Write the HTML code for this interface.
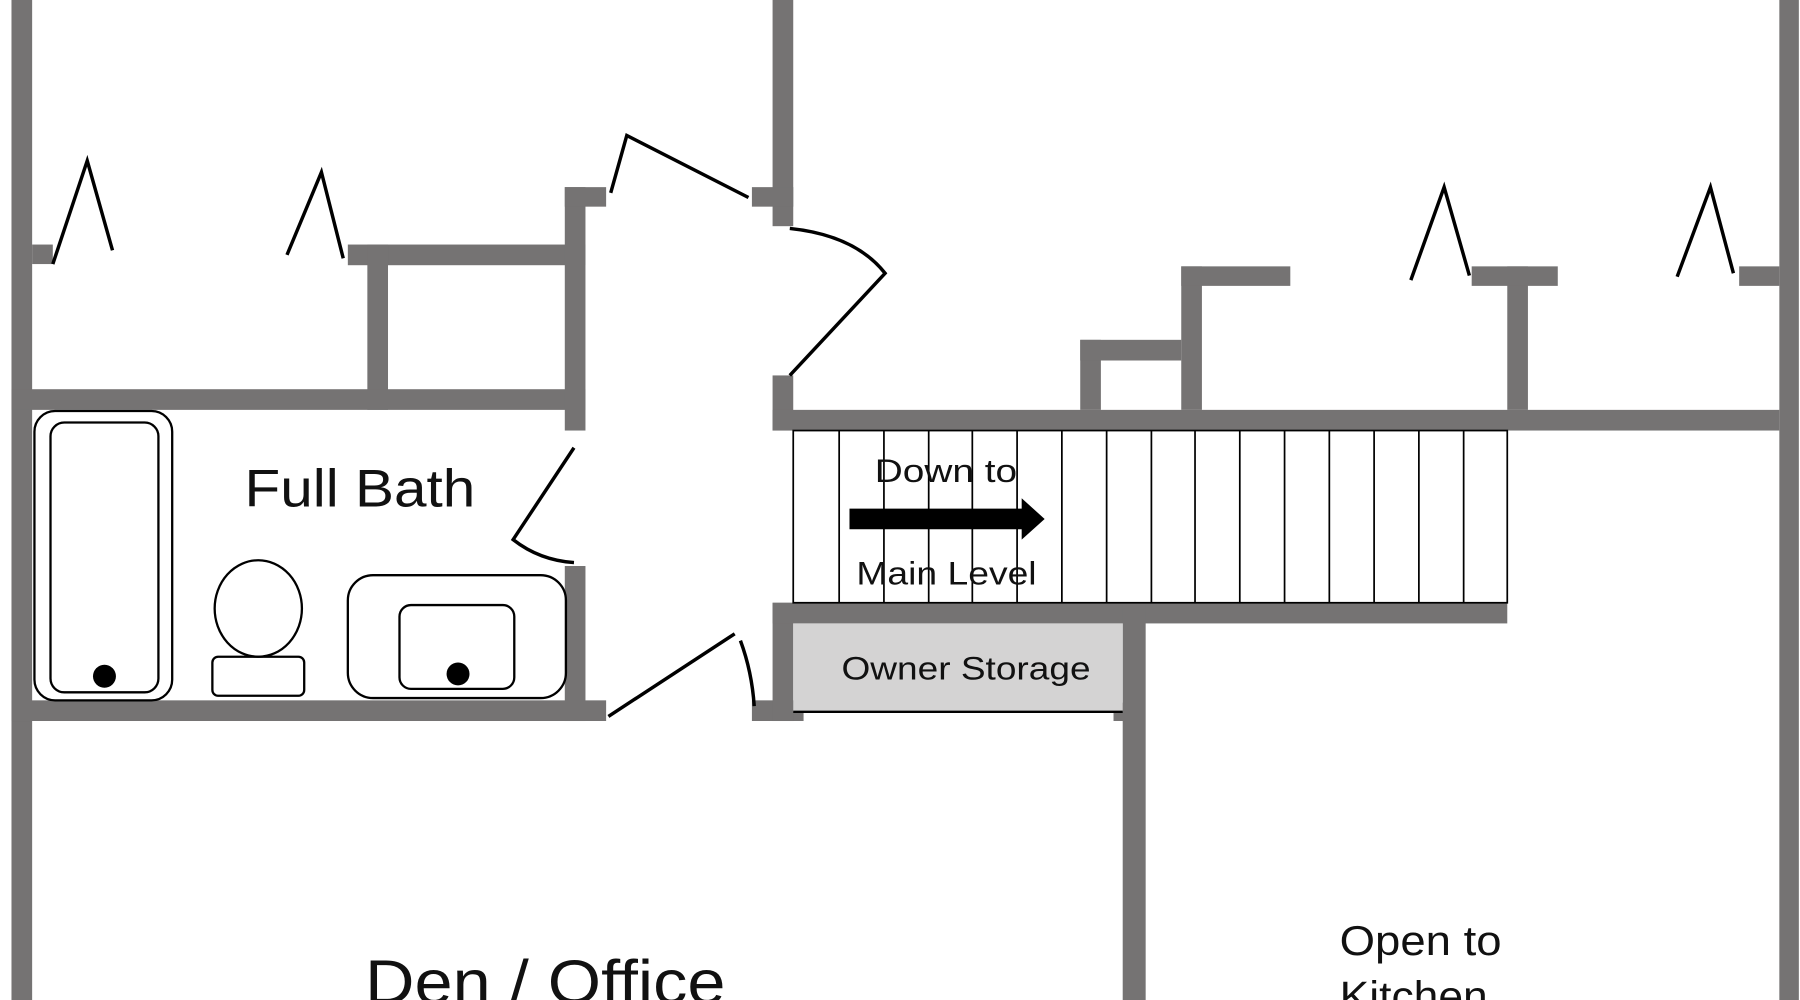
<!DOCTYPE html>
<html><head><meta charset="utf-8"><style>
html,body{margin:0;padding:0;background:#fff;width:1800px;height:1000px;overflow:hidden}
svg{display:block}
text{font-family:"Liberation Sans",sans-serif;fill:#111}
</style></head><body>
<svg width="1800" height="1000" viewBox="0 0 1568 871" preserveAspectRatio="none">
<g fill="#757373">
<!-- outer walls -->
<rect x="10" y="0" width="18" height="871"/>
<rect x="1550" y="0" width="17" height="871"/>
<!-- center vertical wall -->
<rect x="673" y="0" width="18" height="197"/>
<rect x="655" y="163" width="36" height="17"/>
<rect x="673" y="327" width="18" height="48"/>
<rect x="673" y="357" width="877" height="18"/>
<!-- left closets -->
<rect x="28" y="213" width="18" height="17"/>
<rect x="303" y="213" width="207" height="18"/>
<rect x="320" y="213" width="18" height="144"/>
<rect x="10" y="339" width="500" height="18"/>
<rect x="492" y="163" width="18" height="212"/>
<rect x="492" y="163" width="36" height="17"/>
<!-- bath -->
<rect x="492" y="493" width="18" height="135"/>
<rect x="10" y="610" width="518" height="18"/>
<rect x="655" y="610" width="45" height="18"/>
<!-- storage -->
<rect x="673" y="525" width="18" height="103"/>
<rect x="673" y="525" width="640" height="18"/>
<rect x="978" y="525" width="20" height="346"/>
<rect x="970" y="612" width="10" height="16"/>
<!-- right closets -->
<rect x="1029" y="232" width="18" height="125"/>
<rect x="1029" y="232" width="95" height="17"/>
<rect x="941" y="296" width="18" height="61"/>
<rect x="941" y="296" width="88" height="18"/>
<rect x="1313" y="232" width="18" height="125"/>
<rect x="1282" y="232" width="75" height="17"/>
<rect x="1515" y="232" width="35" height="17"/>
</g>
<rect x="691" y="543" width="287" height="77" fill="#d4d3d3"/>
<line x1="691" y1="620" x2="978" y2="620" stroke="#000" stroke-width="2"/>
<!-- stairs -->
<g stroke="#000" stroke-width="1.5" fill="none">
<rect x="691" y="375" width="622" height="150"/>
<path d="M731 375V525M770 375V525M809 375V525M847 375V525M886 375V525M925 375V525M964 375V525M1003 375V525M1041 375V525M1080 375V525M1119 375V525M1158 375V525M1197 375V525M1236 375V525M1275 375V525"/>
</g>
<polygon points="740,443 890,443 890,434 910,452 890,470 890,461 740,461" fill="#000"/>
<!-- doors -->
<g stroke="#000" stroke-width="3" fill="none" stroke-linejoin="miter">
<polyline points="46,230 76,140 98,218"/>
<polyline points="250,222 280,150 299,225"/>
<polyline points="1229,244 1258,163 1280,240"/>
<polyline points="1461,241 1490,163 1510,238"/>
<polyline points="532,168 546,118 652,172"/>
<path d="M688,199 Q745,205 771,238 L688,327"/>
<path d="M500,390 L447,470 Q470,488 500,490"/>
<path d="M530,624 L640,552 M645,558 Q655,585 657,615"/>
</g>
<!-- fixtures -->
<g stroke="#000" stroke-width="2" fill="none">
<rect x="30" y="358" width="120" height="252" rx="18"/>
<rect x="44" y="368" width="94" height="235" rx="12"/>
<ellipse cx="225" cy="530" rx="38" ry="42"/>
<rect x="185" y="572" width="80" height="34" rx="5"/>
<rect x="303" y="501" width="190" height="107" rx="22"/>
<rect x="348" y="527" width="100" height="73" rx="10"/>
</g>
<circle cx="91" cy="589" r="10" fill="#000"/>
<circle cx="399" cy="587" r="10" fill="#000"/>
<!-- labels -->
<text x="213" y="441" font-size="46" textLength="201" lengthAdjust="spacingAndGlyphs">Full Bath</text>
<text x="762" y="420" font-size="28" textLength="124" lengthAdjust="spacingAndGlyphs">Down to</text>
<text x="746" y="509" font-size="28" textLength="157" lengthAdjust="spacingAndGlyphs">Main Level</text>
<text x="733" y="592" font-size="28" textLength="217" lengthAdjust="spacingAndGlyphs">Owner Storage</text>
<text x="318" y="874" font-size="54" textLength="314" lengthAdjust="spacingAndGlyphs">Den / Office</text>
<text x="1167" y="832" font-size="36" textLength="141" lengthAdjust="spacingAndGlyphs">Open to</text>
<text x="1167" y="880" font-size="36" textLength="129" lengthAdjust="spacingAndGlyphs">Kitchen</text>
</svg>
</body></html>
